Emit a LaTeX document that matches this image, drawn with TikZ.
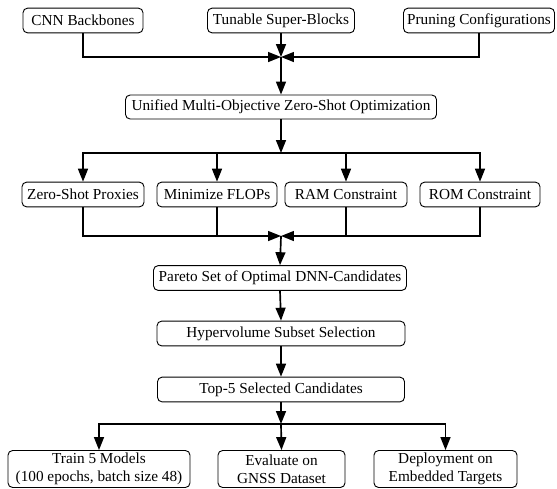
\documentclass[tikz,border=0pt]{standalone}
\usepackage{fontspec}
\setmainfont{Liberation Serif}
\usetikzlibrary{arrows.meta}
\begin{document}
\begin{tikzpicture}[x=0.655pt,y=-0.655pt,
  box/.style={draw, line width=0.6pt, rounded corners=3pt, inner xsep=2pt, inner ysep=1pt,
    minimum height=16.2pt, font=\fontsize{10}{11.5}\selectfont, align=center},
  conn/.style={line width=1.1pt},
  arr/.style={conn, -{Triangle[length=8.5pt,width=6.5pt]}}]
\useasboundingbox (0,0) rectangle (557,488);
% top row
\node[box, minimum width=78.6pt] (cnn) at (83,20.5) {CNN Backbones};
\node[box, minimum width=96.3pt] (tun) at (281,20.5) {Tunable Super-Blocks};
\node[box, minimum width=98.9pt] (pru) at (479,20.5) {Pruning Configurations};
\coordinate (j1) at (281,57);
\node[box, minimum width=203.7pt, minimum height=15.7pt] (uni) at (281,107) {Unified Multi-Objective Zero-Shot Optimization};
\coordinate (d1) at (281,153);
% second row
\node[box, minimum width=79.9pt] (zsp) at (83,194.5) {Zero-Shot Proxies};
\node[box, minimum width=78.6pt] (flp) at (217,194.5) {Minimize FLOPs};
\node[box, minimum width=79.9pt] (ram) at (346,194.5) {RAM Constraint};
\node[box, minimum width=78.6pt] (rom) at (480,194.5) {ROM Constraint};
\coordinate (j2) at (281,236);
\node[box, minimum width=165.7pt] (par) at (280,278) {Pareto Set of Optimal DNN-Candidates};
\node[box, minimum width=162.4pt] (hyp) at (281,333.5) {Hypervolume Subset Selection};
\node[box, minimum width=161.8pt] (top) at (281,389.5) {Top-5 Selected Candidates};
\coordinate (d3) at (281,424);
\node[box, minimum width=119.2pt, minimum height=24.2pt] (trn) at (99,469) {Train 5 Models\\(100 epochs, batch size 48)};
\node[box, minimum width=83.2pt, minimum height=24.2pt] (evl) at (281.5,469) {Evaluate on\\GNSS Dataset};
\node[box, minimum width=93.7pt, minimum height=24.2pt] (dep) at (445.5,469) {Deployment on\\Embedded Targets};
% connectors top merge
\draw[arr] (cnn.south) |- (j1);
\draw[arr] (pru.south) |- (j1);
\draw[arr] (tun.south) -- (j1);
\draw[arr] (j1) -- (uni.north);
% distribution
\draw[arr] (uni.south) -- (d1);
\draw[arr] (d1) -| (zsp.north);
\draw[arr] (d1) -| (flp.north);
\draw[arr] (d1) -| (ram.north);
\draw[arr] (d1) -| (rom.north);
% second merge
\draw[arr] (zsp.south) |- (j2);
\draw[conn] (flp.south) -- (flp.south |- j2);
\draw[arr] (rom.south) |- (j2);
\draw[conn] (ram.south) -- (ram.south |- j2);
\draw[arr] (j2) -- (par.north);
\draw[arr] (par.south) -- (hyp.north);
\draw[arr] (hyp.south) -- (top.north);
\draw[arr] (top.south) -- (d3);
\draw[arr] (d3) -| (trn.north);
\draw[arr] (d3) -- (evl.north);
\draw[arr] (d3) -| (dep.north);
\end{tikzpicture}
\end{document}
